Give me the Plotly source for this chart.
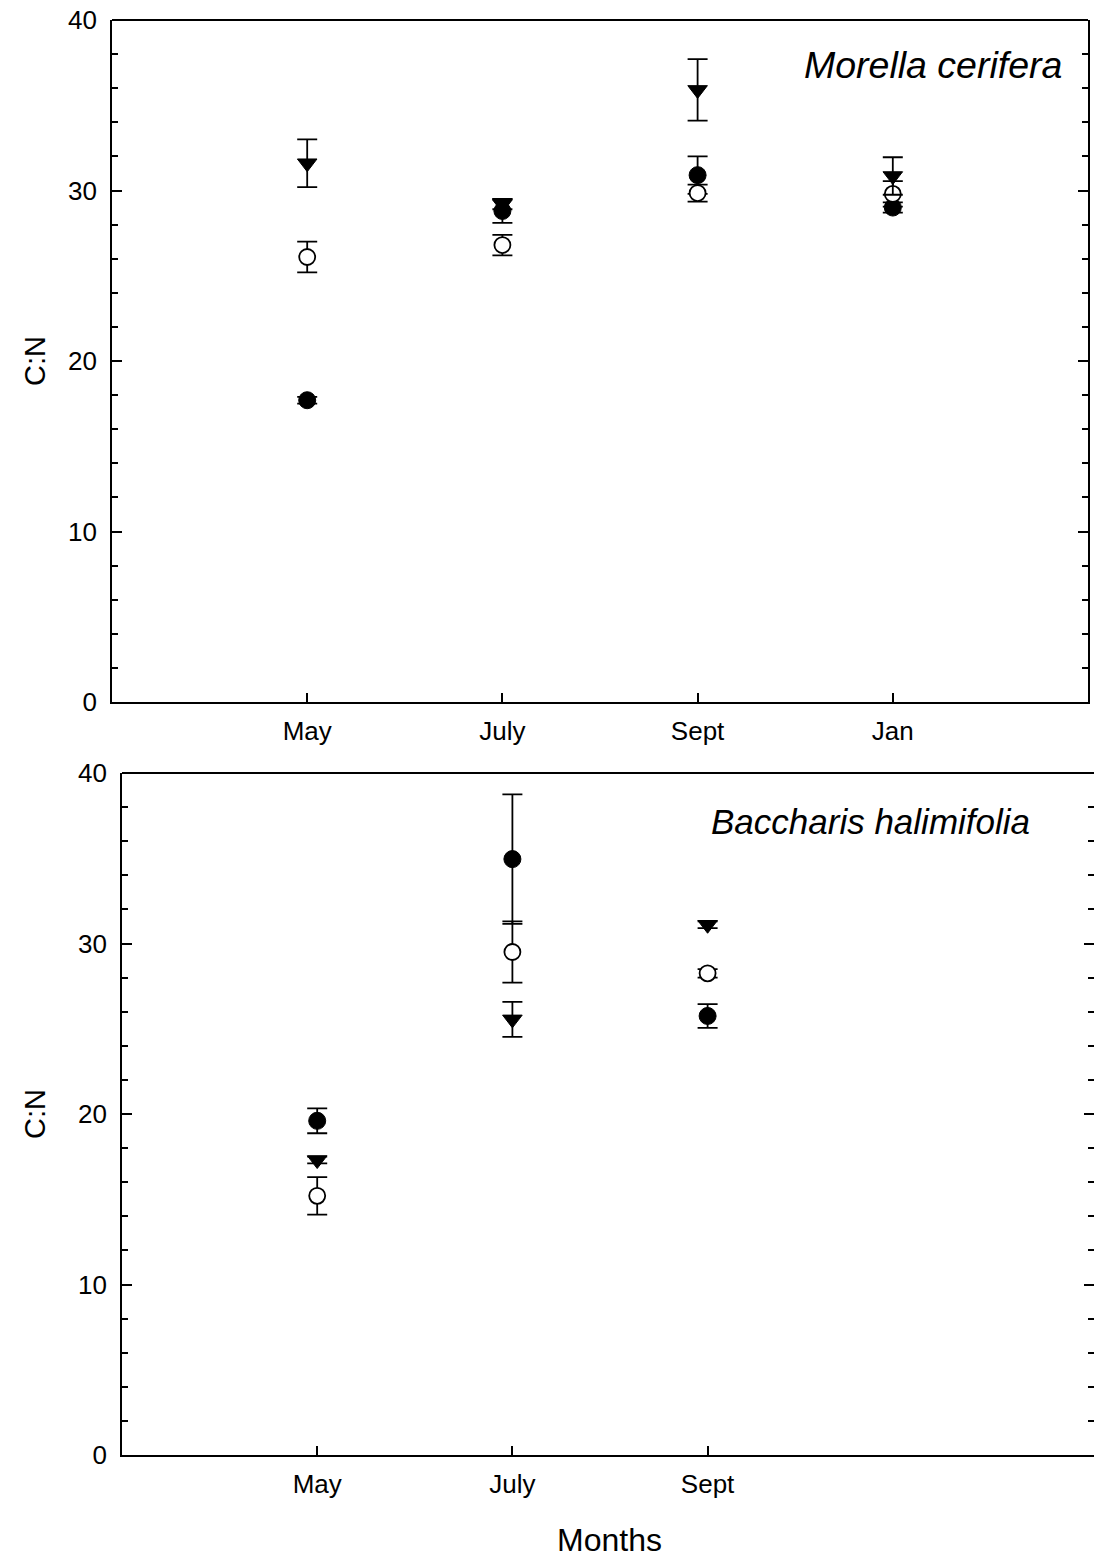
import plotly.graph_objects as go

W, H = 1094, 1559

# ---- data ----
months_top = ["May", "July", "Sept", "Jan"]
months_bot = ["May", "July", "Sept"]
xpos_top = [1, 2, 3, 4]
xpos_bot = [1, 2, 3]

# Morella cerifera
mc_filled = [17.7, 28.8, 30.9, 29.0]
mc_filled_err = [0.2, 0.7, 1.1, 0.3]
mc_open = [26.1, 26.8, 29.85, 29.8]
mc_open_err = [0.9, 0.6, 0.5, 0.75]
mc_tri = [31.6, 29.2, 35.9, 30.85]
mc_tri_err = [1.4, 0.3, 1.8, 1.1]

# Baccharis halimifolia
bh_filled = [19.6, 34.95, 25.75]
bh_filled_err = [0.73, 3.8, 0.7]
bh_open = [15.2, 29.5, 28.25]
bh_open_err = [1.1, 1.8, 0.25]
bh_tri = [17.3, 25.55, 31.1]
bh_tri_err = [0.2, 1.03, 0.2]

FONT = "Liberation Sans, Arial, sans-serif"


def px_x(p):
    return p / W


def px_y(p):
    return 1 - p / H


def add_series(fig, x, filled, ferr, opn, oerr, tri, terr, xa, ya):
    eb = dict(type="data", visible=True, color="black", thickness=1.8, width=10)
    fig.add_trace(go.Scatter(x=x, y=filled, mode="markers", xaxis=xa, yaxis=ya,
                             error_y=dict(array=ferr, **eb),
                             marker=dict(symbol="circle", size=17, color="black",
                                         line=dict(color="black", width=1))))
    fig.add_trace(go.Scatter(x=x, y=opn, mode="markers", xaxis=xa, yaxis=ya,
                             error_y=dict(array=oerr, **eb),
                             marker=dict(symbol="circle", size=16, color="white",
                                         line=dict(color="black", width=1.8))))
    fig.add_trace(go.Scatter(x=x, y=tri, mode="markers", xaxis=xa, yaxis=ya,
                             error_y=dict(array=terr, **eb),
                             marker=dict(symbol="triangle-down", size=17, color="black",
                                         line=dict(color="black", width=1))))


fig = go.Figure()
add_series(fig, xpos_top, mc_filled, mc_filled_err, mc_open, mc_open_err,
           mc_tri, mc_tri_err, "x", "y")
add_series(fig, xpos_bot, bh_filled, bh_filled_err, bh_open, bh_open_err,
           bh_tri, bh_tri_err, "x2", "y2")
# invisible traces to activate right-side tick axes
fig.add_trace(go.Scatter(x=[None], y=[None], xaxis="x", yaxis="y3", showlegend=False))
fig.add_trace(go.Scatter(x=[None], y=[None], xaxis="x2", yaxis="y4", showlegend=False))

unit = (1088 - 112) / 5.0

tickfont = dict(family=FONT, size=26, color="black")
ybase = dict(range=[0, 40], tickvals=[0, 10, 20, 30, 40], ticks="inside", ticklen=10,
             tickwidth=1.8, tickcolor="black", showgrid=False, zeroline=False,
             minor=dict(dtick=2, ticks="inside", ticklen=6, tickwidth=1.5,
                        tickcolor="black", showgrid=False),
             automargin=False, fixedrange=True)
ylab = dict(tickfont=tickfont, ticklabelstandoff=8)
xcommon = dict(ticks="inside", ticklen=9, tickwidth=1.8, tickcolor="black",
               showgrid=False, zeroline=False, showline=True, linecolor="black",
               linewidth=1.8, tickfont=tickfont, ticklabelstandoff=5, automargin=False)

fig.update_layout(
    width=W, height=H, margin=dict(l=0, r=0, t=0, b=0, autoexpand=False),
    paper_bgcolor="white", plot_bgcolor="white", showlegend=False,
    xaxis=dict(domain=[px_x(112), px_x(1088)], range=[0, 5], anchor="y",
               tickvals=xpos_top, ticktext=months_top, **xcommon),
    yaxis=dict(domain=[px_y(702), px_y(20)], anchor="x", showline=True,
               linecolor="black", linewidth=1.8, **ybase, **ylab),
    yaxis3=dict(overlaying="y", side="right", anchor="x", showline=True,
                linecolor="black", linewidth=1.8, showticklabels=False, **ybase),
    xaxis2=dict(domain=[px_x(122), 1], range=[0, (W - 122) / unit], anchor="y2",
                tickvals=xpos_bot, ticktext=months_bot, **xcommon),
    yaxis2=dict(domain=[px_y(1455), px_y(773)], anchor="x2", showline=True,
                linecolor="black", linewidth=1.8, **ybase, **ylab),
    yaxis4=dict(overlaying="y2", side="right", anchor="x2", showline=False,
                showticklabels=False, **ybase),
)

# top frame lines
fig.add_shape(type="line", xref="paper", yref="paper", x0=px_x(112), x1=px_x(1088),
              y0=px_y(20), y1=px_y(20), line=dict(color="black", width=1.8))
fig.add_shape(type="line", xref="paper", yref="paper", x0=px_x(122), x1=1,
              y0=px_y(773), y1=px_y(773), line=dict(color="black", width=1.8))

ann_font = dict(family=FONT, color="black")
fig.add_annotation(text="<i>Morella cerifera</i>", xref="paper", yref="paper",
                   x=px_x(1064), y=px_y(65), xanchor="right", yanchor="middle",
                   showarrow=False, font=dict(size=37.5, **ann_font))
fig.add_annotation(text="<i>Baccharis halimifolia</i>", xref="paper", yref="paper",
                   x=px_x(1032), y=px_y(821), xanchor="right", yanchor="middle",
                   showarrow=False, font=dict(size=35, **ann_font))
fig.add_annotation(text="C:N", xref="paper", yref="paper", x=px_x(35), y=px_y(361),
                   textangle=-90, xanchor="center", yanchor="middle", showarrow=False,
                   font=dict(size=29, **ann_font))
fig.add_annotation(text="C:N", xref="paper", yref="paper", x=px_x(35), y=px_y(1114),
                   textangle=-90, xanchor="center", yanchor="middle", showarrow=False,
                   font=dict(size=29, **ann_font))
fig.add_annotation(text="Months", xref="paper", yref="paper", x=px_x(610), y=px_y(1540),
                   xanchor="center", yanchor="middle", showarrow=False,
                   font=dict(size=32, **ann_font))

fig.write_html("out.html")
